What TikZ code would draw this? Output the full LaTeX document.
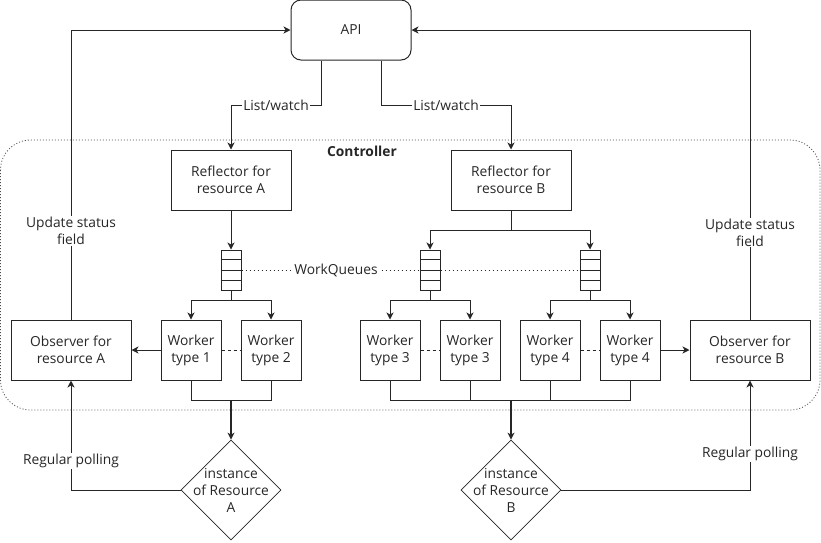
\documentclass[tikz,border=0pt]{standalone}
\usepackage{fontspec}
\setmainfont{Open Sans}
\usetikzlibrary{arrows.meta,shapes.geometric,calc}

\begin{document}
\begin{tikzpicture}[x=1pt, y=-1pt, line width=1pt, draw=black!85,
    every node/.style={font=\fontsize{13.8}{17}\selectfont, align=center, text=black!85},
    box/.style={draw, minimum width=120, minimum height=60, inner sep=0},
    worker/.style={draw, minimum width=60, minimum height=60, inner sep=0},
    queue/.style={draw, minimum width=20, minimum height=40, inner sep=0},
    res/.style={draw, diamond, minimum width=100, minimum height=100, inner sep=0, line width=0.7pt},
    lbl/.style={fill=white, inner sep=1pt},
    arr/.style={-{Stealth[length=7pt, width=7pt, inset=2pt]}}]
  \useasboundingbox (0,0) rectangle (821,542);

  % controller frame
  \draw [black!70, line width=0.8pt, dash pattern=on 1pt off 2pt, rounded corners=30] (0.5,140) rectangle (820,410);
  \node [font=\fontsize{13.8}{17}\selectfont\bfseries] (ctl) at (362,151) {Controller};

  \node [box, rounded corners=10] (api) at (351,30) {API};
  \node [box] (ra) at (231,180) {Reflector for\\resource A};
  \node [box] (rb) at (511,180) {Reflector for\\resource B};

  \node [queue] (qa) at (231,270) {};
  \node [queue] (qb) at (430,270) {};
  \node [queue] (qc) at (590,270) {};
  \foreach \q in {qa,qb,qc}
    \foreach \k in {1,2,3}
      \draw ($(\q.north west)!\k/4!(\q.south west)$) -- ($(\q.north east)!\k/4!(\q.south east)$);
  \node (wq) at (336,270) {WorkQueues};

  \node [worker] (w1) at (191,350) {Worker\\type 1};
  \node [worker] (w2) at (271,350) {Worker\\type 2};
  \node [worker] (w3) at (390,350) {Worker\\type 3};
  \node [worker] (w4) at (470,350) {Worker\\type 3};
  \node [worker] (w5) at (550,350) {Worker\\type 4};
  \node [worker] (w6) at (630,350) {Worker\\type 4};

  \node [box] (oa) at (71,350) {Observer for\\resource A};
  \node [box] (ob) at (750,350) {Observer for\\resource B};

  \node [res] (da) at (231,490) {};
  \node (tda) at (da) {instance\\of Resource\\A};
  \node [res] (db) at (511,490) {};
  \node (tdb) at (db) {instance\\of Resource\\B};

  % API
  \draw [arr] ([xshift=-30]api.south) -- ++(0,45) -| node [lbl, pos=.25] (lwa) {List/watch} (ra.north);
  \draw [arr] ([xshift=30]api.south) -- ++(0,45) -| node [lbl, pos=.25] (lwb) {List/watch} (rb.north);
  \draw [arr] (oa.north) |- node [lbl, pos=.153] (usa) {Update status\\field} (api.west);
  \draw [arr] (ob.north) |- node [lbl, pos=.15] (usb) {Update status\\field} (api.east);

  % queues
  \draw [arr] (ra.south) -- (qa.north);
  \draw (rb.south) -- ++(0,20) coordinate (rbf);
  \draw [arr] (rbf) -| (qb.north);
  \draw [arr] (rbf) -| (qc.north);
  \draw [dash pattern=on 1pt off 3pt] (qa.east) -- (wq.west);
  \draw [dash pattern=on 1pt off 3pt] (wq.east) -- (qb.west);
  \draw [dash pattern=on 1pt off 3pt] (qb.east) -- (qc.west);

  % workers
  \draw (qa.south) -- ++(0,10) coordinate (qaf);
  \draw (qb.south) -- ++(0,10) coordinate (qbf);
  \draw (qc.south) -- ++(0,10) coordinate (qcf);
  \draw [arr] (qaf) -| (w1.north);
  \draw [arr] (qaf) -| (w2.north);
  \draw [arr] (qbf) -| (w3.north);
  \draw [arr] (qbf) -| (w4.north);
  \draw [arr] (qcf) -| (w5.north);
  \draw [arr] (qcf) -| (w6.north);
  \draw [dash pattern=on 3pt off 3pt] (w1) -- (w2);
  \draw [dash pattern=on 3pt off 3pt] (w3) -- (w4);
  \draw [dash pattern=on 3pt off 3pt] (w5) -- (w6);
  \draw [arr] (w1) -- (oa);
  \draw [arr] (w6) -- (ob);

  % resources
  \draw (w1.south) -- ++(0,20) -| (w2.south);
  \draw (w3.south) -- ++(0,20) -| (w6.south);
  \draw (w4.south) -- ++(0,20);
  \draw (w5.south) -- ++(0,20);
  \coordinate (ja) at (231,400);
  \coordinate (jb) at (511,400);
  \draw [arr, line width=1.4pt] (ja) -- (da.north);
  \draw [arr, line width=1.4pt] (jb) -- (db.north);
  \draw [arr] (da.west) -| node [lbl, pos=.632] (rpa) {Regular polling} (oa.south);
  \draw [arr] (db.east) -| node [lbl, pos=.664] (rpb) {Regular polling} (ob.south);
\end{tikzpicture}
\end{document}
